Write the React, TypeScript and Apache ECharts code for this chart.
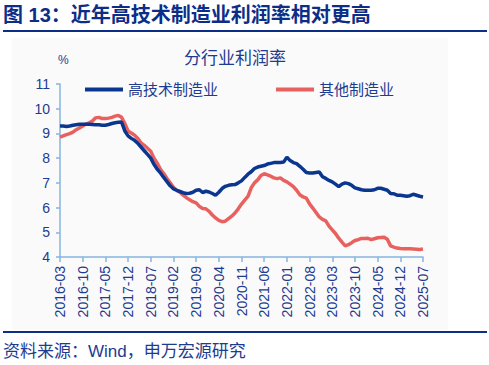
import React, { useEffect, useRef } from "react";
import * as echarts from "echarts";

const startYear = 2016;
const startMonth = 3;
const monthCount = 113;

const categories: string[] = [];
for (let i = 0; i < monthCount; i++) {
  const m = startMonth - 1 + i;
  const y = startYear + Math.floor(m / 12);
  const mm = (m % 12) + 1;
  categories.push(`${y}-${mm < 10 ? "0" + mm : mm}`);
}

const seriesNames = ["高技术制造业", "其他制造业"];

const highTech = [
  9.30, 9.30, 9.28, 9.30, 9.33, 9.35, 9.37, 9.37, 9.37, 9.37,
  9.36, 9.35, 9.35, 9.33, 9.33, 9.36, 9.40, 9.43, 9.45, 9.46,
  9.10, 8.90, 8.80, 8.72, 8.60, 8.45, 8.30, 8.15, 8.00, 7.75,
  7.55, 7.40, 7.22, 7.05, 6.88, 6.76, 6.70, 6.65, 6.60, 6.57,
  6.58, 6.62, 6.70, 6.72, 6.61, 6.66, 6.63, 6.57, 6.50, 6.62,
  6.77, 6.86, 6.90, 6.92, 6.93, 7.00, 7.08, 7.22, 7.35, 7.45,
  7.58, 7.64, 7.67, 7.70, 7.76, 7.79, 7.82, 7.82, 7.82, 7.84,
  8.04, 7.90, 7.82, 7.78, 7.67, 7.55, 7.42, 7.40, 7.40, 7.42,
  7.44, 7.25, 7.18, 7.10, 7.04, 6.95, 6.85, 6.95, 7.00, 6.97,
  6.90, 6.80, 6.76, 6.72, 6.70, 6.70, 6.70, 6.72, 6.78, 6.78,
  6.74, 6.70, 6.57, 6.56, 6.50, 6.50, 6.48, 6.46, 6.48, 6.54,
  6.50, 6.46, 6.43,
];

const otherMfg = [
  8.85, 8.90, 8.95, 8.99, 9.05, 9.15, 9.22, 9.30, 9.38, 9.43,
  9.50, 9.63, 9.65, 9.60, 9.60, 9.62, 9.65, 9.70, 9.73, 9.65,
  9.40, 9.10, 9.02, 8.93, 8.80, 8.62, 8.52, 8.40, 8.28, 8.00,
  7.80, 7.55, 7.38, 7.18, 7.00, 6.82, 6.70, 6.62, 6.50, 6.40,
  6.32, 6.24, 6.19, 6.05, 5.96, 5.95, 5.85, 5.70, 5.58, 5.48,
  5.43, 5.45, 5.55, 5.65, 5.78, 5.95, 6.14, 6.30, 6.45, 6.80,
  7.00, 7.12, 7.30, 7.37, 7.32, 7.27, 7.20, 7.17, 7.20, 7.10,
  7.04, 6.95, 6.85, 6.70, 6.52, 6.43, 6.38, 6.15, 5.98, 5.80,
  5.62, 5.52, 5.46, 5.25, 5.10, 4.95, 4.76, 4.60, 4.45, 4.50,
  4.58, 4.67, 4.70, 4.75, 4.75, 4.76, 4.70, 4.74, 4.78, 4.79,
  4.80, 4.72, 4.45, 4.40, 4.36, 4.34, 4.33, 4.33, 4.33, 4.32,
  4.31, 4.30, 4.32,
];

const yTicks = [4, 5, 6, 7, 8, 9, 10, 11];

const FONT = "Arial, 'Liberation Sans', 'Noto Sans CJK SC', sans-serif";
const TEXT_BLUE = "#1d3b8f";
const HEADER_BLUE = "#0c2e86";
const LINE_BLUE = "#0b3690";
const LINE_RED = "#e8615f";
const AXIS_BLUE = "#86b4e0";

export default function App() {
  const ref = useRef<HTMLDivElement>(null);
  useEffect(() => {
    if (!ref.current) return;
    const chart = echarts.init(ref.current, undefined, { renderer: "svg" });
    chart.setOption({
      animation: false,
      backgroundColor: "#ffffff",
      textStyle: { fontFamily: FONT },
      title: {
        text: "分行业利润率",
        left: 230,
        textAlign: "center",
        top: 45,
        textStyle: { fontSize: 17, fontWeight: "normal", color: TEXT_BLUE, fontFamily: FONT },
      },
      legend: {
        left: 80,
        top: 77,
        itemWidth: 38,
        itemHeight: 4,
        itemGap: 58,
        icon: "rect",
        textStyle: { fontSize: 15, color: TEXT_BLUE, fontFamily: FONT },
        data: seriesNames,
      },
      graphic: [
        {
          type: "rect",
          z: -10,
          shape: { x: 12, y: 38, width: 436, height: 292 },
          style: { fill: "#fafafa" },
          silent: true,
        },
        {
          type: "text",
          left: 3,
          top: 5,
          style: {
            text: "图 13：近年高技术制造业利润率相对更高",
            font: `bold 20px ${FONT}`,
            fill: HEADER_BLUE,
          },
        },
        {
          type: "rect",
          shape: { x: 3, y: 30, width: 484, height: 2 },
          style: { fill: HEADER_BLUE },
        },
        {
          type: "rect",
          shape: { x: 3, y: 331, width: 484, height: 2 },
          style: { fill: HEADER_BLUE },
        },
        {
          type: "text",
          left: 3,
          top: 343,
          style: {
            text: "资料来源：Wind，申万宏源研究",
            font: `17px ${FONT}`,
            fill: TEXT_BLUE,
          },
        },
        {
          type: "text",
          left: 58,
          top: 54,
          style: { text: "%", font: `12px ${FONT}`, fill: TEXT_BLUE },
        },
      ],
      grid: { left: 60, right: 66, top: 84, bottom: 108, containLabel: false },
      xAxis: {
        type: "category",
        data: categories,
        boundaryGap: false,
        axisLine: { lineStyle: { color: AXIS_BLUE, width: 1.5 } },
        axisTick: { interval: 6, length: 5, lineStyle: { color: AXIS_BLUE, width: 1.5 } },
        axisLabel: {
          interval: 6,
          rotate: 90,
          margin: 9,
          fontSize: 14,
          color: TEXT_BLUE,
          fontFamily: FONT,
        },
        splitLine: { show: false },
      },
      yAxis: {
        type: "value",
        min: yTicks[0],
        max: yTicks[yTicks.length - 1],
        interval: 1,
        axisLine: { show: true, lineStyle: { color: AXIS_BLUE, width: 1.5 } },
        axisTick: { show: true, length: 4, lineStyle: { color: AXIS_BLUE, width: 1.5 } },
        axisLabel: { fontSize: 14, color: TEXT_BLUE, margin: 10, fontFamily: FONT },
        splitLine: { show: false },
      },
      series: [
        {
          name: seriesNames[0],
          type: "line",
          data: highTech,
          showSymbol: false,
          symbol: "none",
          lineStyle: { color: LINE_BLUE, width: 3.5 },
          itemStyle: { color: LINE_BLUE },
          z: 3,
        },
        {
          name: seriesNames[1],
          type: "line",
          data: otherMfg,
          showSymbol: false,
          symbol: "none",
          lineStyle: { color: LINE_RED, width: 3.5 },
          itemStyle: { color: LINE_RED },
          z: 2,
        },
      ],
    });
    return () => chart.dispose();
  }, []);
  return (
    <div
      ref={ref}
      style={{ position: "fixed", left: 0, top: 0, width: 489, height: 365 }}
    />
  );
}
